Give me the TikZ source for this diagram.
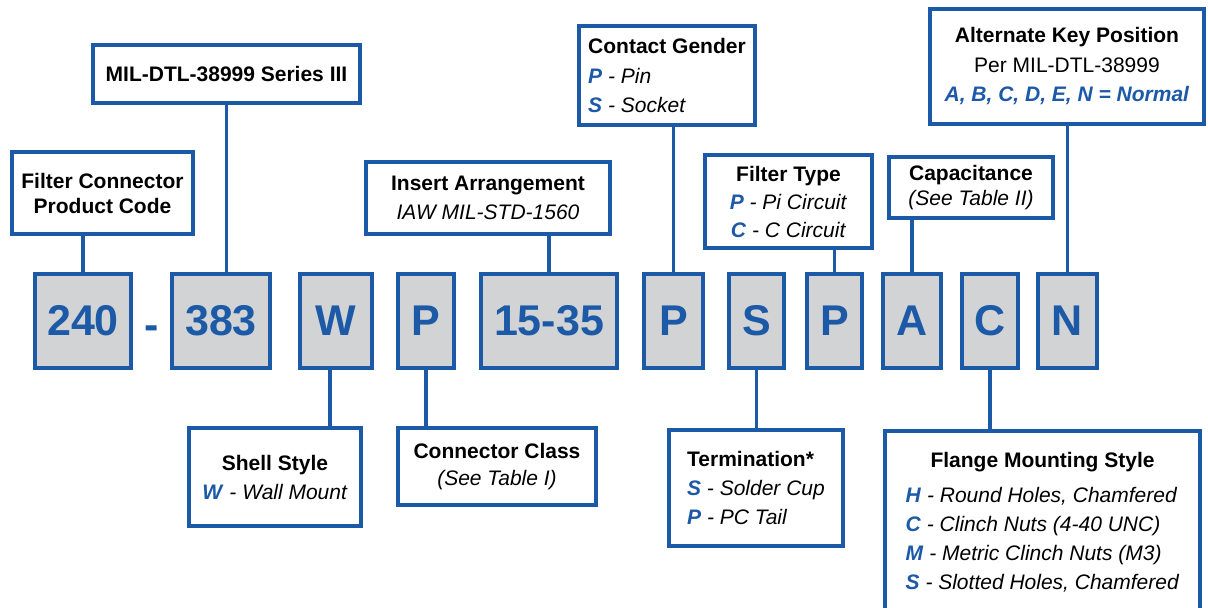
\documentclass[tikz,border=0pt]{standalone}
\usepackage{fontspec}
\setmainfont{Liberation Sans}
\usepackage{xcolor}
\usetikzlibrary{positioning}

\definecolor{keyblue}{RGB}{28,89,166}
\definecolor{boxgray}{RGB}{209,211,212}
\newcommand{\opt}[2]{\textcolor{keyblue}{\textbf{\textit{#1}}} \textit{- #2}}

\begin{document}
\begin{tikzpicture}[x=1pt, y=-1pt,
    codebox/.style={draw=keyblue, fill=boxgray, line width=4pt, text=keyblue,
        font=\fontsize{43}{43}\selectfont\bfseries, minimum height=94pt, inner sep=0pt},
    infobox/.style={draw=keyblue, fill=white, line width=4pt, inner sep=0pt,
        font=\fontsize{21}{28}\selectfont, align=center},
    link/.style={draw=keyblue, line width=3.5pt}]
    \useasboundingbox (0,0) rectangle (1208,608);

    % Các ô mã sản phẩm
    \node[codebox, minimum width=96pt] (c240) at (83,321) {240};
    \node[text=keyblue, font=\fontsize{43}{43}\selectfont\bfseries] (dash) at (152,333) {-};
    \node[codebox, minimum width=98pt] (c383) at (221,321) {383};
    \node[codebox, minimum width=72pt] (cShell) at (336,321) {W};
    \node[codebox, minimum width=56pt] (cClass) at (426,321) {P};
    \node[codebox, minimum width=136pt] (cIns) at (549,321) {15-35};
    \node[codebox, minimum width=59pt] (cGen) at (673.5,321) {P};
    \node[codebox, minimum width=55pt] (cTerm) at (756.5,321) {S};
    \node[codebox, minimum width=55pt] (cFil) at (834.5,321) {P};
    \node[codebox, minimum width=58pt] (cCap) at (912,321) {A};
    \node[codebox, minimum width=56pt] (cFla) at (990,321) {C};
    \node[codebox, minimum width=59pt] (cKey) at (1067.5,321) {N};

    % Các hộp chú thích phía trên
    \node[infobox, font=\fontsize{21}{25}\selectfont, minimum width=181pt, minimum height=82pt]
        (fcpc) at (102.5,193) {\textbf{Filter Connector}\\\textbf{Product Code}};
    \node[infobox, minimum width=267pt, minimum height=58pt]
        (mil) at (226.5,74) {\textbf{MIL-DTL-38999 Series III}};
    \node[infobox, font=\fontsize{21}{29}\selectfont, minimum width=244pt, minimum height=72pt]
        (ins) at (488,198) {\textbf{Insert Arrangement}\\\textit{IAW MIL-STD-1560}};
    \node[infobox, font=\fontsize{21}{29.5}\selectfont, align=left, minimum width=176pt, minimum height=99pt]
        (gen) at (667,75.5) {\textbf{Contact Gender}\\\opt{P}{Pin}\\\opt{S}{Socket}};
    \node[infobox, minimum width=167pt, minimum height=93pt]
        (fil) at (788.5,201.5) {\textbf{Filter Type}\\\opt{P}{Pi Circuit}\\\opt{C}{C Circuit}};
    \node[infobox, font=\fontsize{21}{25}\selectfont, minimum width=164pt, minimum height=61pt]
        (cap) at (971,187.5) {\textbf{Capacitance}\\\textit{(See Table II)}};
    \node[infobox, font=\fontsize{21}{29.5}\selectfont, minimum width=274pt, minimum height=115pt]
        (key) at (1067,66.5) {\textbf{Alternate Key Position}\\Per MIL-DTL-38999\\
        \textcolor{keyblue}{\textbf{\textit{A, B, C, D, E, N = Normal}}}};

    % Các hộp chú thích phía dưới
    \node[infobox, font=\fontsize{21}{29}\selectfont, minimum width=172pt, minimum height=98pt]
        (shell) at (275,477) {\textbf{Shell Style}\\\opt{W}{Wall Mount}};
    \node[infobox, font=\fontsize{21}{27}\selectfont, minimum width=198pt, minimum height=77pt]
        (class) at (497,466.5) {\textbf{Connector Class}\\\textit{(See Table I)}};
    \node[infobox, font=\fontsize{21}{29}\selectfont, align=left, minimum width=174pt, minimum height=116pt]
        (term) at (756,488) {\textbf{Termination*}\\\opt{S}{Solder Cup}\\\opt{P}{PC Tail}};
    \node[infobox, font=\fontsize{21}{29}\selectfont, minimum width=315pt, minimum height=188pt]
        (fla) at (1042.5,525) {\textbf{Flange Mounting Style}\\[6pt]
        \begin{tabular}[t]{@{}l@{}}\opt{H}{Round Holes, Chamfered}\\\opt{C}{Clinch Nuts (4-40 UNC)}\\
        \opt{M}{Metric Clinch Nuts (M3)}\\\opt{S}{Slotted Holes, Chamfered}\end{tabular}};

    % Đường nối từ ô mã tới hộp chú thích
    \draw[link] (c240.north) -- (c240.north |- fcpc.south);
    \draw[link] (mil.south) -- (mil.south |- c383.north);
    \draw[link] (cIns.north) -- (cIns.north |- ins.south);
    \draw[link] (cGen.north) -- (cGen.north |- gen.south);
    \draw[link] (cFil.north) -- (cFil.north |- fil.south);
    \draw[link] (cCap.north) -- (cCap.north |- cap.south);
    \draw[link] (cKey.north) -- (cKey.north |- key.south);
    \draw[link] ([xshift=-6pt]cShell.south) -- ([xshift=-6pt]cShell.south |- shell.north);
    \draw[link] (cClass.south) -- (cClass.south |- class.north);
    \draw[link] (cTerm.south) -- (cTerm.south |- term.north);
    \draw[link] (cFla.south) -- (cFla.south |- fla.north);
\end{tikzpicture}
\end{document}
